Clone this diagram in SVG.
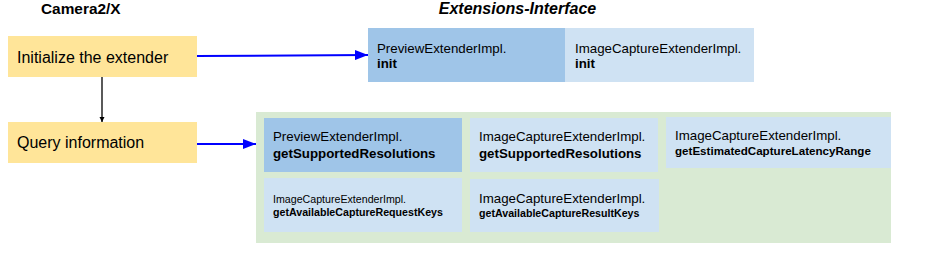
<svg xmlns="http://www.w3.org/2000/svg" width="930" height="264" viewBox="0 0 930 264">
<defs>
<style>
text{font-family:"Liberation Sans",Arial,sans-serif;fill:#000}
.h{font-size:15.4px;font-weight:bold}
.y{fill:#FFE599}
.dk{fill:#9FC5E8}
.lt{fill:#CFE2F3}
.t16{font-size:16px}
.t13{font-size:13.3px}
.b13{font-size:13.3px;font-weight:bold}
.s{font-size:10.65px}
.bs{font-size:10.65px;font-weight:bold}
.bm{font-size:11.6px;font-weight:bold}
.blue{stroke:#0000FF;stroke-width:2;fill:none}
</style>
<marker id="ab" markerWidth="14" markerHeight="10" refX="13" refY="5" orient="auto" markerUnits="userSpaceOnUse"><path d="M0,0 L13,5 L0,10 Z" fill="#0000FF"/></marker>
<marker id="ak" markerWidth="6" markerHeight="6" refX="5" refY="3" orient="auto" markerUnits="userSpaceOnUse"><path d="M0,0.5 L5,3 L0,5.5 Z" fill="#000"/></marker>
</defs>
<rect width="930" height="264" fill="#fff"/>
<text class="h" x="41" y="14">Camera2/X</text>
<text x="517.5" y="14" text-anchor="middle" style="font-size:16px;font-weight:bold;font-style:italic">Extensions-Interface</text>
<g id="init-extender"><rect class="y" x="8" y="36" width="189" height="41"/><text class="t16" x="17" y="63">Initialize the extender</text></g>
<g id="query-info"><rect class="y" x="8" y="122" width="189" height="41"/><text class="t16" x="17" y="148">Query information</text></g>
<g id="preview-init"><rect class="dk" x="368" y="28" width="197" height="54"/><text class="t13" x="377" y="53">PreviewExtenderImpl.</text><text class="b13" x="377" y="68">init</text></g>
<g id="capture-init"><rect class="lt" x="565" y="28" width="189" height="54"/><text class="t13" x="575" y="53">ImageCaptureExtenderImpl.</text><text class="b13" x="575" y="68">init</text></g>
<g id="query-group"><rect x="256" y="112" width="635" height="131" fill="#D9EAD3"/></g>
<g id="preview-res"><rect class="dk" x="264" y="118" width="198" height="54"/><text class="t13" x="273" y="141">PreviewExtenderImpl.</text><text class="b13" x="273" y="158">getSupportedResolutions</text></g>
<g id="capture-res"><rect class="lt" x="470" y="118" width="188" height="54"/><text class="t13" x="479" y="141">ImageCaptureExtenderImpl.</text><text class="b13" x="479" y="158">getSupportedResolutions</text></g>
<g id="capture-latency"><rect class="lt" x="666" y="117" width="225" height="51"/><text class="t13" x="675" y="140">ImageCaptureExtenderImpl.</text><text class="bm" x="675" y="155">getEstimatedCaptureLatencyRange</text></g>
<g id="capture-request-keys"><rect class="lt" x="264" y="178" width="198" height="54"/><text class="s" x="273" y="203">ImageCaptureExtenderImpl.</text><text class="bs" x="273" y="216">getAvailableCaptureRequestKeys</text></g>
<g id="capture-result-keys"><rect class="lt" x="470" y="179" width="189" height="53"/><text class="t13" x="479" y="203">ImageCaptureExtenderImpl.</text><text class="bs" x="479" y="217">getAvailableCaptureResultKeys</text></g>
<g id="connectors">
<path class="blue" d="M197,56 L368,55" marker-end="url(#ab)"/>
<path class="blue" d="M197,144 L256,144" marker-end="url(#ab)"/>
<path d="M102,77 L102,122" stroke="#000" stroke-width="1.3" fill="none" marker-end="url(#ak)"/>
</g>
</svg>
